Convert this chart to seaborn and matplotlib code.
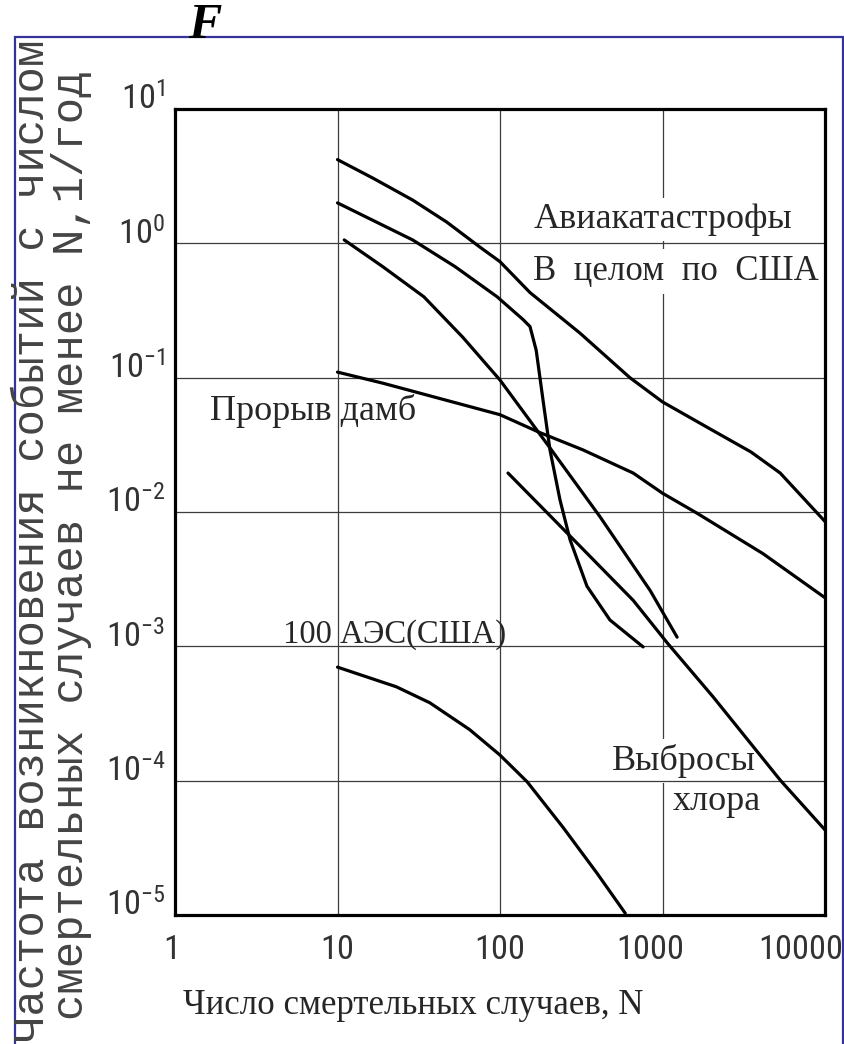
import numpy as np
import pandas as pd
import matplotlib
matplotlib.use("Agg")
import matplotlib.pyplot as plt
import matplotlib.transforms as mtransforms
from matplotlib.patches import Rectangle
from matplotlib import font_manager as fm
import seaborn as sns

# ---------------- data ----------------
avia_N = [10, 16.5, 29, 47, 75, 100, 153, 310, 630, 1000, 2000, 3500, 5300, 10000]
avia_F = [4.2, 3.06, 2.1, 1.44, 0.94, 0.73, 0.43, 0.215, 0.10, 0.066, 0.041, 0.028, 0.0195, 0.0085]

total_N = [10, 29, 53, 96, 139, 153, 167, 184, 203, 234, 270, 343, 475, 760]
total_F = [2.0, 1.06, 0.67, 0.40, 0.27, 0.24, 0.16, 0.068, 0.029, 0.0123, 0.0062, 0.0028, 0.00157, 0.00099]

third_N = [11, 19, 34, 59, 100, 203, 413, 840, 1230]
third_F = [1.06, 0.67, 0.40, 0.20, 0.096, 0.030, 0.0092, 0.0026, 0.00117]

dam_N = [10, 19, 39, 100, 176, 324, 660, 1000, 1630, 4150, 10000]
dam_F = [0.11, 0.091, 0.072, 0.053, 0.039, 0.029, 0.0195, 0.0138, 0.0098, 0.0049, 0.0023]

chlorine_N = [112, 258, 660, 1070, 2050, 5300, 10000]
chlorine_F = [0.0195, 0.0070, 0.0022, 0.00106, 0.00042, 0.000101, 4.3e-5]

aes_N = [10, 23, 37, 65, 100, 147, 244, 395, 590]
aes_F = [7.0e-4, 5.0e-4, 3.8e-4, 2.4e-4, 1.55e-4, 9.8e-5, 4.5e-5, 2.05e-5, 1.03e-5]

series_names = ["Авиакатастрофы", "В целом по США", "Кривая 3", "Прорыв дамб", "Выбросы хлора", "100 АЭС(США)"]

x_ticks = [1, 10, 100, 1000, 10000]
x_tick_labels = ["1", "10", "100", "1000", "10000"]
y_exponents = [1, 0, -1, -2, -3, -4, -5]

x_label = "Число смертельных случаев, N"
y_label_line1 = "Частота возникновения событий с числом"
y_label_line2 = "смертельных случаев не менее N,1/год"

# ---------------- fonts ----------------
sns.set_theme(style="white")
ttf = fm.fontManager.ttflist
avail = {f.name for f in ttf}

narrow, narrow_stretch = None, "normal"
for cand in ["Liberation Sans Narrow", "Roboto Condensed", "Open Sans Condensed",
             "Noto Sans Condensed", "DejaVu Sans Condensed"]:
    if cand in avail:
        narrow = cand
        break
if narrow is None:
    for fam in ["DejaVu Sans", "Noto Sans", "Roboto", "Open Sans"]:
        if any(f.name == fam and "condensed" in str(f.stretch) for f in ttf):
            narrow, narrow_stretch = fam, "condensed"
            break
if narrow is None:
    narrow = "Liberation Sans" if "Liberation Sans" in avail else "DejaVu Sans"

mono = "DejaVu Sans Mono"
for cand in ["Liberation Mono", "Courier New", "Nimbus Mono PS", "FreeMono", "Noto Sans Mono"]:
    if cand in avail:
        mono = cand
        break

serif = "Liberation Serif"
plt.rcParams["font.family"] = [serif, "DejaVu Serif"]
plt.rcParams["axes.unicode_minus"] = True

W, H = 844, 1044
fig = plt.figure(figsize=(W / 100, H / 100), dpi=100)
fig.patch.set_facecolor("white")
renderer = fig.canvas.get_renderer()


def fit_size(text, target_px, base=20.0, **kw):
    t = fig.text(0, 0, text, fontsize=base, **kw)
    w = t.get_window_extent(renderer).width
    t.remove()
    return base * target_px / w


tick_fs = min(30.0, fit_size("10", 34, family=narrow, stretch=narrow_stretch))
ylab_fs = fit_size(y_label_line1, 1000, family=mono)

ax = fig.add_axes([175 / W, 1 - 915 / H, 650 / W, 806 / H])
ax.set_facecolor("white")
ax.set_xscale("log")
ax.set_yscale("log")

frames = []
for name, n, f in zip(series_names,
                      [avia_N, total_N, third_N, dam_N, chlorine_N, aes_N],
                      [avia_F, total_F, third_F, dam_F, chlorine_F, aes_F]):
    frames.append(pd.DataFrame({"N": n, "F": f, "series": name}))
df = pd.concat(frames, ignore_index=True)

sns.lineplot(data=df, x="N", y="F", hue="series", hue_order=series_names,
             palette={s: "black" for s in series_names}, estimator=None,
             linewidth=2.3, legend=False, ax=ax, zorder=2)

ax.set_xlim(1, 1e4)
ax.set_ylim(1e-5, 1e1)
ax.minorticks_off()

tick_kw = dict(fontfamily=narrow, fontstretch=narrow_stretch, fontsize=tick_fs, color="#333333")
ax.set_xticks(x_ticks)
ax.set_xticklabels(x_tick_labels, **tick_kw)
ax.set_yticks([10.0 ** e for e in y_exponents])
ax.set_yticklabels([r"$\mathregular{10^{%d}}$" % e for e in y_exponents], va="baseline", **tick_kw)
ax.tick_params(axis="x", length=0, pad=14)
ax.tick_params(axis="y", length=0, pad=7)

x_label_dx = [-3, 0, 0, -12, -24]
for lab, dx in zip(ax.get_xticklabels(), x_label_dx):
    lab.set_transform(lab.get_transform() +
                      mtransforms.ScaledTranslation(dx / 100, 0, fig.dpi_scale_trans))

ax.grid(True, which="major", color="#3c3c3c", linewidth=0.9)
ax.set_axisbelow(True)
ax.yaxis.set_zorder(1.8)
for sp in ax.spines.values():
    sp.set_visible(True)
    sp.set_color("black")
    sp.set_linewidth(2.3)

ax.set_ylabel("")
ax.set_xlabel(x_label, fontfamily=serif, fontsize=25)
ax.xaxis.set_label_coords(0.366, -0.112)
ax.xaxis.label.set_va("center")

# curve labels
wb = dict(facecolor="white", edgecolor="none", pad=4)
ax.text(160, 1.3, "Авиакатастрофы", fontsize=26, ha="left", va="baseline", bbox=wb, zorder=1.5)
ax.text(160, 0.533, "В  целом  по  США", fontsize=25, ha="left", va="baseline", bbox=wb, zorder=1.5)
ax.text(1.64, 0.0483, "Прорыв дамб", fontsize=26, ha="left", va="baseline", zorder=3)
ax.text(4.62, 1.06e-3, "100 АЭС(США)", fontsize=23.5, ha="left", va="baseline", zorder=3)
ax.text(489, 1.2e-4, "Выбросы", fontsize=26, ha="left", va="baseline", bbox=wb, zorder=1.5)
ax.text(1161, 6.0e-5, "хлора", fontsize=26, ha="left", va="baseline", bbox=wb, zorder=1.5)

# y axis label (two rotated lines)
fig.text(44 / W, 1 - 1042 / H, y_label_line1, rotation=90, rotation_mode="anchor",
         ha="left", va="baseline", fontfamily=mono, fontsize=ylab_fs, color="#444444")
fig.text(83 / W, 1 - 1020 / H, y_label_line2, rotation=90, rotation_mode="anchor",
         ha="left", va="baseline", fontfamily=mono, fontsize=ylab_fs, color="#444444")

# blue page frame and "F"
frame = Rectangle((15 / W, -0.05), (843 - 15) / W, (1 - 37 / H) + 0.05,
                  transform=fig.transFigure, fill=False, edgecolor="#333399",
                  linewidth=1.6, clip_on=False, zorder=0)
fig.add_artist(frame)
fig.text(188 / W, 1 - 38 / H, "F", fontfamily=serif, fontweight="bold",
         fontstyle="italic", fontsize=36, ha="left", va="baseline", color="black")

fig.savefig("out.png", dpi=100, facecolor="white")
